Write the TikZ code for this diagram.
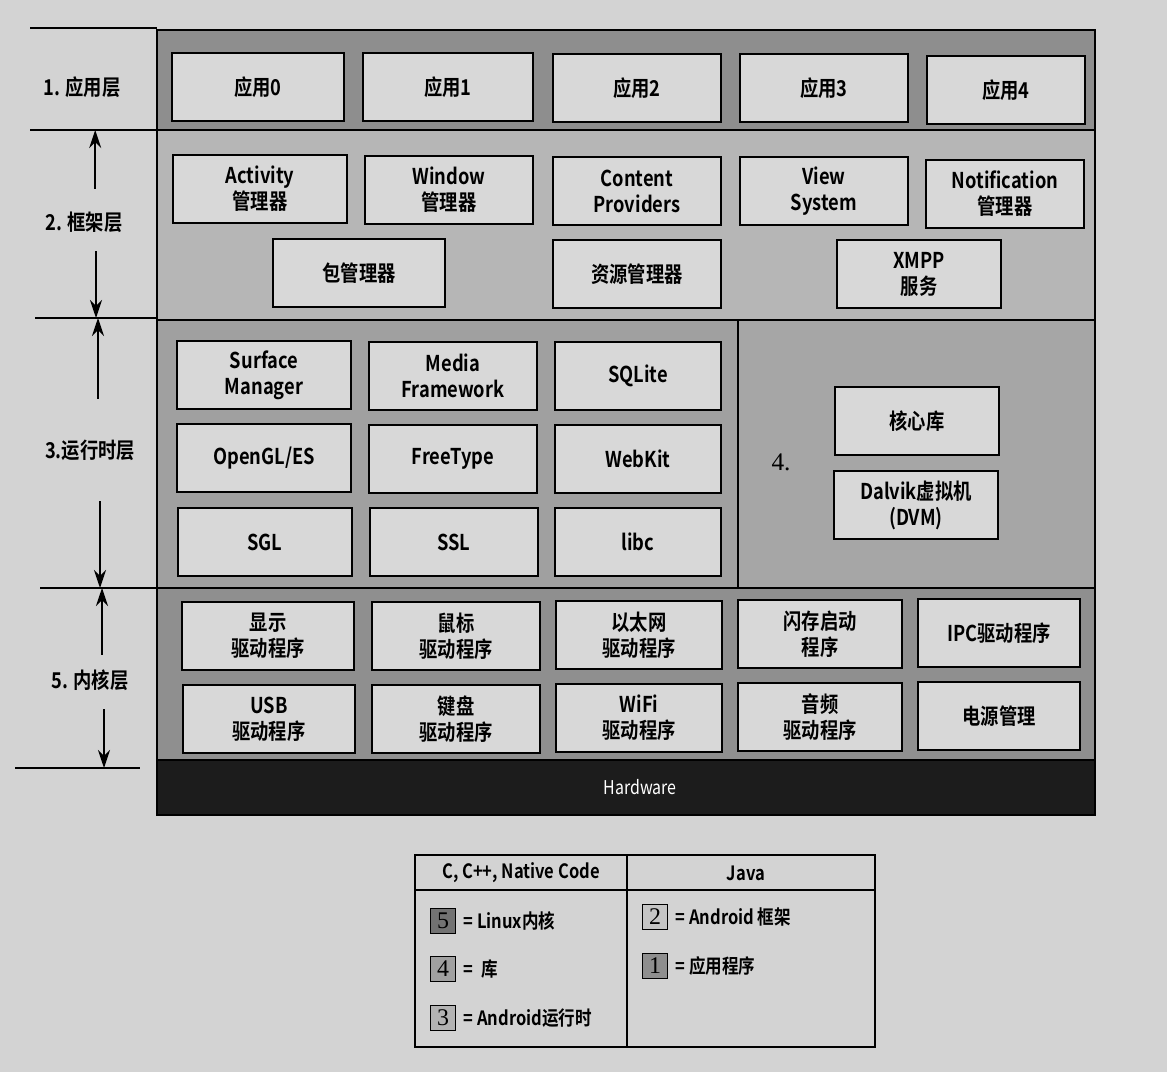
\documentclass[tikz,border=0pt]{standalone}
\usepackage{fontspec}
\setmainfont{Noto Sans CJK SC}[BoldFont={* Bold}, FakeStretch=0.84]
\newfontfamily\keyfont{Liberation Serif}
\usepackage{xcolor}
\usetikzlibrary{arrows.meta, positioning}

\definecolor{pagegray}{HTML}{D3D3D3}
\definecolor{boxgray}{HTML}{D8D8D8}
\definecolor{appgray}{HTML}{8E8E8E}
\definecolor{fwgray}{HTML}{B6B6B6}
\definecolor{rtgray}{HTML}{A0A0A0}
\definecolor{libgray}{HTML}{A6A6A6}
\definecolor{krngray}{HTML}{8F8F8F}
\definecolor{hwgray}{HTML}{1C1C1C}

\tikzset{
  box/.style={
    rectangle, draw=black, line width=1.3pt,
    fill=boxgray,
    minimum width=#1, minimum height=1.7cm,
    align=center, inner sep=2pt,
    font=\fontsize{15.5}{18.5}\selectfont\bfseries
  },
  box/.default=4.2cm,
  layer/.style={draw=black, thick},
  sidelabel/.style={font=\fontsize{15.5}{18}\selectfont\bfseries},
  arrow/.style={
    -{Stealth[length=4.5mm, width=3mm]},
    line width=1.3pt
  },
  rulerline/.style={line width=1pt},
  keybox/.style={
    rectangle, draw=black, thick,
    minimum size=0.62cm, inner sep=0pt,
    font=\keyfont\fontsize{17}{17}\selectfont
  },
  keytext/.style={font=\fontsize{14}{16}\selectfont\bfseries},
  headtext/.style={font=\fontsize{14}{16}\selectfont\bfseries}
}

\begin{document}
\begin{tikzpicture}[x=0.025cm, y=-0.025cm]

% page
\fill[pagegray] (0,0) rectangle (1167,1072);

%------------------------------------------------------
% LAYERS
%------------------------------------------------------
\filldraw[layer, fill=appgray] (157,30) rectangle (1095,130);
\filldraw[layer, fill=fwgray] (157,130) rectangle (1095,320);
\filldraw[layer, fill=rtgray] (157,320) rectangle (738,588);
\filldraw[layer, fill=libgray] (738,320) rectangle (1095,588);
\filldraw[layer, fill=krngray] (157,588) rectangle (1095,760);
\filldraw[layer, fill=hwgray] (157,760) rectangle (1095,815);
\draw[line width=1.6pt] (157,30) rectangle (1095,815);

%------------------------------------------------------
% 1. applications
%------------------------------------------------------
\node[box=4.3cm] (app0) at (258,87) {应用0};
\node[box=4.25cm] (app1) at (448,87) {应用1};
\node[box=4.2cm] (app2) at (637,88) {应用2};
\node[box=4.2cm] (app3) at (824,88) {应用3};
\node[box=3.95cm] (app4) at (1006,90) {应用4};

%------------------------------------------------------
% 2. framework
%------------------------------------------------------
\node[box=4.35cm] (activity) at (260,189) {Activity\\管理器};
\node[box=4.2cm] (window) at (449,190) {Window\\管理器};
\node[box=4.2cm] (content) at (637,191) {Content\\Providers};
\node[box=4.2cm] (view) at (824,191) {View\\System};
\node[box=3.95cm] (notify) at (1005,194) {Notification\\管理器};
\node[box=4.3cm] (pkgmgr) at (359,273) {包管理器};
\node[box=4.2cm] (resmgr) at (637,274) {资源管理器};
\node[box=4.1cm] (xmpp) at (919,274) {XMPP\\服务};

%------------------------------------------------------
% 3. runtime libraries
%------------------------------------------------------
\node[box=4.35cm] (surface) at (264,375) {Surface\\Manager};
\node[box=4.2cm] (media) at (453,376) {Media\\Framework};
\node[box=4.15cm] (sqlite) at (638,376) {SQLite};
\node[box=4.35cm] (opengl) at (264,458) {OpenGL/ES};
\node[box=4.2cm] (freetype) at (453,459) {FreeType};
\node[box=4.15cm] (webkit) at (638,459) {WebKit};
\node[box=4.35cm] (sgl) at (265,542) {SGL};
\node[box=4.2cm] (ssl) at (454,542) {SSL};
\node[box=4.15cm] (libc) at (638,542) {libc};

%------------------------------------------------------
% 4. core libraries + DVM
%------------------------------------------------------
\node[font=\keyfont\fontsize{18}{18}\selectfont] (four) at (781,462) {4.};
\node[box=4.1cm] (corelib) at (917,421) {核心库};
\node[box=4.1cm] (dalvik) at (916,505) {Dalvik虚拟机\\(DVM)};

%------------------------------------------------------
% 5. kernel drivers
%------------------------------------------------------
\node[box=4.3cm] (display) at (268,636) {显示\\驱动程序};
\node[box=4.2cm] (mouse) at (456,636) {鼠标\\驱动程序};
\node[box=4.15cm] (ether) at (639,635) {以太网\\驱动程序};
\node[box=4.1cm] (flash) at (820,634) {闪存启动\\程序};
\node[box=4.05cm] (ipc) at (999,633) {IPC驱动程序};
\node[box=4.3cm] (usb) at (269,719) {USB\\驱动程序};
\node[box=4.2cm] (keyboard) at (456,719) {键盘\\驱动程序};
\node[box=4.15cm] (wifi) at (639,718) {WiFi\\驱动程序};
\node[box=4.1cm] (audio) at (820,717) {音频\\驱动程序};
\node[box=4.05cm] (power) at (999,716) {电源管理};

\node[text=white, font=\fontsize{13.5}{15}\selectfont] (hardware) at (640,787) {Hardware};

%------------------------------------------------------
% LEFT RULER
%------------------------------------------------------
\draw[rulerline] (30,28) -- (157,28);
\draw[rulerline] (30,130) -- (157,130);
\draw[rulerline] (35,318) -- (157,318);
\draw[rulerline] (40,588) -- (157,588);
\draw[rulerline] (15,768) -- (140,768);
\coordinate (rB) at (0,130);
\coordinate (rC) at (0,318);
\coordinate (rD) at (0,588);
\coordinate (rE) at (0,768);

\node[sidelabel] (lbl1) at (82,87) {1. 应用层};
\node[sidelabel] (lbl2) at (84,222) {2. 框架层};
\node[sidelabel] (lbl3) at (90,450) {3.运行时层};
\node[sidelabel] (lbl5) at (90,680) {5. 内核层};

\draw[arrow] ([xshift=0.28cm, yshift=0.45cm]lbl2.north) -- ([xshift=0.28cm]lbl2.north |- rB);
\draw[arrow] ([xshift=0.3cm, yshift=-0.35cm]lbl2.south) -- ([xshift=0.3cm]lbl2.south |- rC);
\draw[arrow] ([xshift=0.2cm, yshift=0.9cm]lbl3.north) -- ([xshift=0.2cm]lbl3.north |- rC);
\draw[arrow] ([xshift=0.25cm, yshift=-0.9cm]lbl3.south) -- ([xshift=0.25cm]lbl3.south |- rD);
\draw[arrow] ([xshift=0.3cm, yshift=0.25cm]lbl5.north) -- ([xshift=0.3cm]lbl5.north |- rD);
\draw[arrow] ([xshift=0.35cm, yshift=-0.35cm]lbl5.south) -- ([xshift=0.35cm]lbl5.south |- rE);

%------------------------------------------------------
% LEGEND
%------------------------------------------------------
\draw[line width=1.4pt] (415,855) rectangle (875,1047);
\draw[line width=1.2pt] (415,890) -- (875,890);
\draw[line width=1.2pt] (627,855) -- (627,1047);
\node[headtext] (hnative) at (521,873) {C, C++, Native Code};
\node[headtext] (hjava) at (746,873) {Java};

\node[keybox, fill=krngray!80!black] (key5) at (443,921) {5};
\node[keybox, fill=rtgray] (key4) at (443,969) {4};
\node[keybox, fill=libgray!85!white] (key3) at (443,1018) {3};
\node[keybox, fill=fwgray!80!white] (key2) at (655,917) {2};
\node[keybox, fill=appgray] (key1) at (655,966) {1};

\node[keytext, right=2pt of key5] (txt5) {= Linux内核};
\node[keytext, right=2pt of key4] (txt4) {= \ 库};
\node[keytext, right=2pt of key3] (txt3) {= Android运行时};
\node[keytext, right=2pt of key2] (txt2) {= Android 框架};
\node[keytext, right=2pt of key1] (txt1) {= 应用程序};

\end{tikzpicture}
\end{document}
